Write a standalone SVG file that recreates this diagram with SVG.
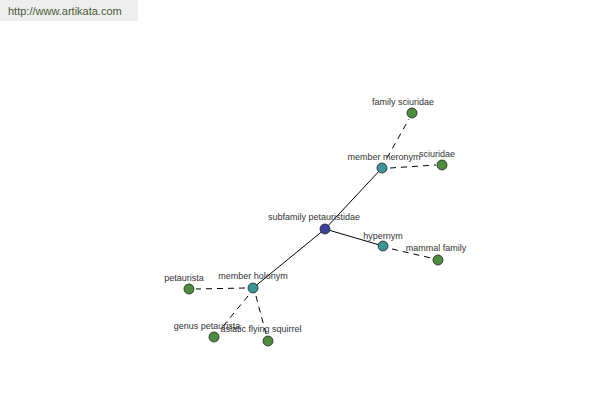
<svg xmlns="http://www.w3.org/2000/svg" width="600" height="400" viewBox="0 0 600 400">
<style>
.lbl{font-family:"Liberation Sans",Arial,sans-serif;font-size:9px;fill:#333;text-anchor:middle}
.solid{stroke:#000;stroke-width:1;fill:none}
.dash{stroke:#000;stroke-width:1;fill:none;stroke-dasharray:6,5}
.root{fill:#3b3f99;stroke:#222;stroke-width:0.8}
.rel{fill:#3a9696;stroke:#222;stroke-width:0.8}
.leaf{fill:#4c8c3c;stroke:#222;stroke-width:0.8}
</style>
<rect x="0" y="0" width="600" height="400" fill="#fff"/>
<rect x="0" y="0" width="138" height="21" fill="#eeeeee"/>
<text x="8" y="15" style="font-family:'Liberation Sans',Arial,sans-serif;font-size:11px;fill:#4a5a3a">http://www.artikata.com</text>
<g id="connectors">
<line class="solid" x1="325" y1="229" x2="382" y2="168"/>
<line class="solid" x1="325" y1="229" x2="383" y2="246"/>
<line class="solid" x1="325" y1="229" x2="253" y2="288"/>
<line class="dash" x1="387" y1="158" x2="409" y2="119"/>
<line class="dash" x1="390" y1="168" x2="436" y2="165"/>
<line class="dash" x1="392" y1="249" x2="431" y2="258"/>
<line class="dash" x1="245" y1="288" x2="196" y2="289"/>
<line class="dash" x1="248" y1="296" x2="220" y2="330"/>
<line class="dash" x1="256" y1="296" x2="266" y2="334"/>
</g>
<g id="n-subfamily"><circle class="root" cx="325" cy="229" r="5"/><text class="lbl" x="314" y="220">subfamily petauristidae</text></g>
<g id="n-meronym"><circle class="rel" cx="382" cy="168" r="5"/><text class="lbl" x="384" y="160">member meronym</text></g>
<g id="n-family-sciuridae"><circle class="leaf" cx="412" cy="113" r="5"/><text class="lbl" x="403" y="105">family sciuridae</text></g>
<g id="n-sciuridae"><circle class="leaf" cx="442" cy="165" r="5"/><text class="lbl" x="437" y="157">sciuridae</text></g>
<g id="n-hypernym"><circle class="rel" cx="383" cy="246" r="5"/><text class="lbl" x="383" y="239">hypernym</text></g>
<g id="n-mammal-family"><circle class="leaf" cx="438" cy="260" r="5"/><text class="lbl" x="436" y="251">mammal family</text></g>
<g id="n-holonym"><circle class="rel" cx="253" cy="288" r="5"/><text class="lbl" x="253" y="279">member holonym</text></g>
<g id="n-petaurista"><circle class="leaf" cx="189" cy="289" r="5"/><text class="lbl" x="184" y="281">petaurista</text></g>
<g id="n-genus-petaurista"><circle class="leaf" cx="214" cy="337" r="5"/><text class="lbl" x="207" y="329">genus petaurista</text></g>
<g id="n-asiatic"><circle class="leaf" cx="268" cy="341" r="5"/><text class="lbl" x="261" y="332">asiatic flying squirrel</text></g>
</svg>
